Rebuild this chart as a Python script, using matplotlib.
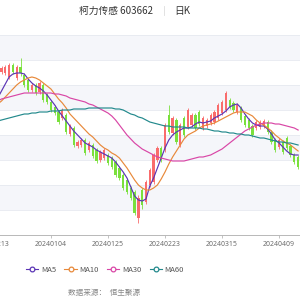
import numpy as np
import matplotlib
matplotlib.use("Agg")
import matplotlib.pyplot as plt
from matplotlib.lines import Line2D

plt.rcParams['font.family'] = ['Noto Sans CJK SC', 'DejaVu Sans']

# trading days shown in the window
dates = [
    "20231213", "20231214", "20231215", "20231218", "20231219", "20231220", "20231221",
    "20231222", "20231225", "20231226", "20231227", "20231228", "20231229", "20240102",
    "20240103", "20240104", "20240105", "20240108", "20240109", "20240110", "20240111",
    "20240112", "20240115", "20240116", "20240117", "20240118", "20240119", "20240122",
    "20240123", "20240124", "20240125", "20240126", "20240129", "20240130", "20240131",
    "20240201", "20240202", "20240205", "20240206", "20240207", "20240208", "20240219",
    "20240220", "20240221", "20240222", "20240223", "20240226", "20240227", "20240228",
    "20240229", "20240301", "20240304", "20240305", "20240306", "20240307", "20240308",
    "20240311", "20240312", "20240313", "20240314", "20240315", "20240318", "20240319",
    "20240320", "20240321", "20240322", "20240325", "20240326", "20240327", "20240328",
    "20240329", "20240401", "20240402", "20240403", "20240408", "20240409", "20240410",
    "20240411", "20240412", "20240415", "20240416",
]
tick_labels = ["20231213", "20240104", "20240125", "20240223", "20240315", "20240409"]

# OHLC
opens = [35.1, 35.5, 36.3, 36.2, 35.8, 37.0, 35.7, 36.8, 36.0, 35.5,
         34.5, 35.0, 34.3, 35.0, 34.0, 33.3, 32.8, 32.3, 31.7, 32.0,
         30.1, 30.7, 28.9, 29.0, 29.5, 28.5, 29.0, 28.5, 27.5, 27.7,
         28.0, 27.7, 27.3, 26.7, 26.0, 25.5, 24.7, 24.3, 21.7, 24.5,
         23.3, 25.0, 25.3, 27.5, 28.7, 28.5, 32.0, 30.2, 31.5, 29.0,
         31.7, 30.8, 31.0, 32.0, 32.3, 30.7, 30.9, 31.2, 31.3, 31.7,
         32.2, 32.5, 33.5, 33.2, 32.3, 32.7, 31.9, 31.5, 30.9, 30.7,
         30.8, 30.9, 31.3, 30.3, 29.5, 28.8, 29.3, 29.7, 28.9, 28.0,
         27.8]
closes = [35.7, 36.3, 36.7, 36.8, 37.0, 36.3, 36.8, 36.2, 35.0, 34.5,
          35.0, 34.2, 35.2, 33.5, 33.3, 32.5, 32.2, 31.3, 32.5, 30.3,
          30.9, 29.0, 29.3, 29.5, 28.2, 29.2, 27.9, 27.4, 28.3, 28.5,
          27.2, 26.8, 26.0, 25.7, 24.7, 24.3, 23.7, 22.2, 23.7, 23.0,
          25.3, 26.5, 28.0, 28.7, 27.5, 31.0, 30.3, 31.7, 29.3, 31.0,
          30.0, 32.5, 32.0, 30.7, 31.1, 31.7, 31.5, 32.0, 32.3, 33.0,
          33.3, 34.2, 32.8, 32.5, 33.0, 31.5, 31.0, 30.7, 30.0, 31.3,
          31.3, 31.4, 30.3, 29.3, 28.5, 29.5, 28.3, 28.7, 28.0, 27.3,
          26.8]
highs = [35.9, 36.5, 36.9, 37.0, 37.2, 37.2, 37.0, 37.7, 36.2, 35.7,
         35.2, 35.2, 35.4, 35.2, 34.2, 33.5, 33.0, 32.5, 32.7, 32.2,
         31.1, 30.9, 29.5, 29.7, 29.7, 29.4, 29.2, 28.7, 28.5, 28.7,
         28.2, 27.9, 27.5, 26.9, 26.2, 25.7, 24.9, 24.5, 24.0, 24.7,
         25.5, 26.7, 28.2, 28.9, 28.9, 31.2, 33.0, 31.9, 31.7, 31.2,
         31.9, 32.7, 32.2, 32.2, 32.5, 31.9, 31.7, 32.2, 32.5, 33.2,
         33.5, 34.4, 33.7, 33.4, 33.2, 32.9, 32.1, 31.7, 31.1, 31.5,
         31.5, 31.6, 31.5, 30.5, 29.7, 29.7, 29.5, 29.9, 29.1, 28.2,
         28.0]
lows = [34.9, 35.3, 36.1, 36.0, 35.6, 36.1, 35.5, 35.9, 34.8, 34.3,
        34.3, 34.0, 34.1, 33.3, 33.1, 32.3, 32.0, 31.1, 31.5, 30.1,
        29.9, 28.8, 28.7, 28.8, 28.0, 28.3, 27.7, 27.2, 27.3, 27.5,
        27.0, 26.6, 25.8, 25.5, 24.5, 24.1, 23.5, 22.0, 21.2, 22.6,
        23.1, 24.8, 25.1, 27.3, 27.3, 28.3, 30.1, 30.0, 29.1, 28.8,
        29.8, 30.6, 30.8, 30.5, 30.9, 30.5, 30.7, 31.0, 31.1, 31.5,
        32.0, 32.3, 32.6, 32.3, 32.1, 31.3, 30.8, 30.5, 29.8, 30.5,
        30.6, 30.7, 30.1, 29.1, 28.3, 28.6, 28.1, 28.5, 27.8, 27.1,
        26.6]

# moving averages as drawn in the reference
ma5 = [33.0, 33.7, 34.4, 35.1, 35.8, 36.1, 36.2, 36.2, 36.1, 35.6,
       35.2, 34.9, 34.7, 34.4, 34.0, 33.5, 33.0, 32.4, 31.9, 31.4,
       30.9, 30.4, 30.0, 29.6, 29.2, 29.0, 28.8, 28.5, 28.3, 28.1,
       27.9, 27.7, 27.3, 26.8, 26.3, 25.7, 24.8, 23.9, 23.5, 23.4,
       23.6, 24.9, 25.7, 26.7, 27.7, 28.7, 29.5, 30.0, 30.3, 30.5,
       30.7, 30.7, 30.8, 31.1, 31.3, 31.2, 31.3, 31.4, 31.7, 31.9,
       32.1, 32.4, 32.8, 33.0, 33.1, 32.7, 32.1, 31.6, 31.2, 31.0,
       30.9, 30.9, 30.6, 30.1, 29.5, 29.2, 28.8, 28.4, 28.1, 28.0,
       28.0]
ma10 = [32.7, 33.1, 33.4, 33.8, 34.2, 34.6, 35.0, 35.3, 35.5, 35.7,
        35.8, 35.7, 35.5, 35.2, 34.9, 34.6, 34.1, 33.6, 33.2, 32.7,
        32.1, 31.7, 31.3, 30.9, 30.5, 30.1, 29.8, 29.4, 29.0, 28.7,
        28.5, 28.2, 28.0, 27.7, 27.2, 26.7, 26.1, 25.5, 25.0, 24.7,
        24.5, 24.5, 24.7, 25.0, 25.6, 26.3, 27.1, 27.8, 28.4, 29.0,
        29.6, 30.0, 30.2, 30.4, 30.7, 30.9, 31.0, 31.1, 31.2, 31.4,
        31.6, 31.8, 32.0, 32.2, 32.3, 32.3, 32.3, 32.1, 31.9, 31.5,
        31.2, 31.0, 30.7, 30.4, 30.0, 29.7, 29.4, 29.2, 29.0, 28.7,
        28.4]
ma30 = [33.2, 33.4, 33.6, 33.7, 33.8, 33.9, 34.0, 34.1, 34.2, 34.2,
        34.2, 34.2, 34.2, 34.2, 34.2, 34.2, 34.1, 34.1, 34.0, 33.9,
        33.7, 33.6, 33.5, 33.4, 33.3, 33.1, 33.0, 32.8, 32.6, 32.4,
        32.2, 31.9, 31.5, 31.0, 30.5, 30.0, 29.6, 29.2, 28.9, 28.6,
        28.4, 28.2, 28.0, 27.8, 27.7, 27.6, 27.5, 27.4, 27.4, 27.4,
        27.4, 27.5, 27.6, 27.7, 27.8, 27.8, 27.9, 28.0, 28.2, 28.4,
        28.6, 28.9, 29.2, 29.5, 29.8, 30.1, 30.4, 30.6, 30.8, 31.0,
        31.1, 31.2, 31.2, 31.2, 31.1, 31.1, 31.0, 30.9, 30.8, 30.7,
        30.5]
ma60 = [31.3, 31.4, 31.5, 31.6, 31.7, 31.8, 31.9, 32.0, 32.1, 32.1,
        32.2, 32.2, 32.3, 32.3, 32.3, 32.4, 32.4, 32.4, 32.5, 32.5,
        32.5, 32.6, 32.6, 32.6, 32.6, 32.7, 32.7, 32.7, 32.7, 32.7,
        32.7, 32.7, 32.6, 32.6, 32.5, 32.3, 32.1, 32.0, 31.8, 31.7,
        31.5, 31.3, 31.2, 31.1, 31.0, 30.9, 30.9, 30.8, 30.8, 30.8,
        30.8, 30.7, 30.7, 30.7, 30.7, 30.6, 30.6, 30.5, 30.4, 30.4,
        30.3, 30.3, 30.2, 30.2, 30.1, 30.1, 30.0, 30.0, 29.9, 29.8,
        29.7, 29.7, 29.6, 29.5, 29.4, 29.3, 29.3, 29.2, 29.2, 29.1,
        29.0]

UP = "#f96c6c"
DOWN = "#7ae03c"
ma_colors = {"MA5": "#5b35b5", "MA10": "#e8893a", "MA30": "#d946a6", "MA60": "#22898c"}

fig = plt.figure(figsize=(3, 3), dpi=100)
ax = fig.add_axes([-8 / 300, 65 / 300, 308 / 300, 200 / 300])

# striped background like the original
y_lo, y_hi, step = 20, 40, 2.5
for k, y0 in enumerate(np.arange(y_lo, y_hi, step)):
    if k % 2 == 1:
        ax.axhspan(y0, y0 + step, color="#f5f6fa", lw=0, zorder=0)
for y0 in np.arange(y_lo, y_hi + 0.01, step):
    ax.axhline(y0, color="#e6e9f0", lw=0.6, zorder=0.5)

x = np.arange(len(dates))
o = np.array(opens); c = np.array(closes)
h = np.array(highs); l = np.array(lows)
col = np.where(c >= o, UP, DOWN)

ax.vlines(x, l, h, colors=col, lw=0.6, zorder=2)
ax.bar(x, np.abs(c - o), bottom=np.minimum(o, c), width=0.6,
       color=col, lw=0, zorder=2)

for name, vals in [("MA5", ma5), ("MA10", ma10), ("MA30", ma30), ("MA60", ma60)]:
    ax.plot(x, vals, color=ma_colors[name], lw=0.85, zorder=3)

ax.set_xlim(-0.5, len(dates) - 0.5)
ax.set_ylim(y_lo, y_hi)
ticks = [dates.index(t) for t in tick_labels]
ax.set_xticks(ticks)
ax.set_xticklabels(tick_labels, fontsize=5, color="#6e6e6e", family=["Noto Sans", "DejaVu Sans"])
ax.tick_params(axis="x", length=2.5, width=0.6, color="#b8b8b8", pad=2)
ax.set_yticks([])
for side in ["top", "right", "left"]:
    ax.spines[side].set_visible(False)
ax.spines["bottom"].set_color("#b8b8b8")
ax.spines["bottom"].set_linewidth(0.7)

# header
fig.text(116 / 300, 1 - 11 / 300, "柯力传感 603662", ha="center", va="center",
         fontsize=7, color="#333333")
fig.add_artist(Line2D([164 / 300, 164 / 300], [1 - 15 / 300, 1 - 6 / 300],
                      color="#dddddd", lw=0.6))
fig.text(182 / 300, 1 - 11 / 300, "日K", ha="center", va="center",
         fontsize=7, color="#333333")

handles = [Line2D([0], [0], color=ma_colors[n], lw=0.8, marker="o", markersize=3.4,
                  markerfacecolor="white", markeredgewidth=0.9) for n in ma_colors]
fig.legend(handles, list(ma_colors), loc="center", bbox_to_anchor=(105 / 300, 1 - 270 / 300),
           ncol=4, frameon=False, fontsize=5.5, handlelength=1.6, handletextpad=0.35,
           columnspacing=1.1, labelcolor="#555555")

fig.text(104 / 300, 1 - 293 / 300, "数据来源：  恒生聚源", ha="center", va="center",
         fontsize=5.5, color="#888888")

fig.savefig("out.png", dpi=100)
